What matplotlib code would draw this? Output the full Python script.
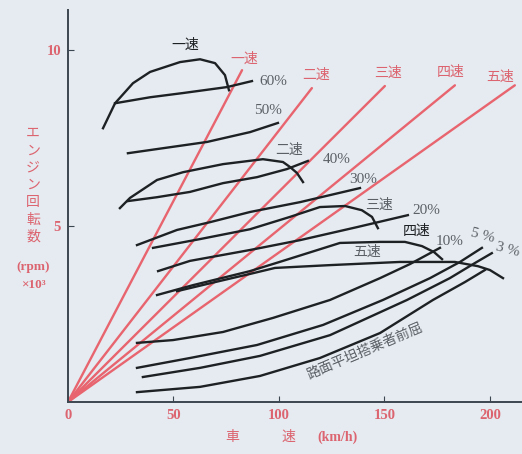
import matplotlib
matplotlib.use('Agg')
import matplotlib.pyplot as plt

plt.rcParams['font.family'] = ['Noto Sans CJK JP', 'DejaVu Sans']

# gear lines (red): top end of each line, speed km/h / rpm x1000
gear_names = ['一速', '二速', '三速', '四速', '五速']
gear_end_speed = [82.5, 115.6, 150.2, 183.4, 211.8]
gear_end_rpm = [9.43, 8.92, 8.98, 9.00, 9.00]

# full-throttle envelope per gear (black)
env1_speed = [16.6, 22.3, 30.8, 38.9, 53.1, 62.6, 69.7, 74.4, 76.3]
env1_rpm = [7.78, 8.49, 9.06, 9.38, 9.66, 9.74, 9.63, 9.29, 8.86]
env2_speed = [24.6, 29.4, 42.2, 54.5, 73.5, 92.4, 101.9, 105.2, 108.5, 111.4]
env2_rpm = [5.51, 5.80, 6.31, 6.53, 6.76, 6.90, 6.82, 6.68, 6.51, 6.25]
env3_speed = [40.3, 62.6, 86.3, 105.2, 119.4, 131.3, 139.3, 144.1, 146.9]
env3_rpm = [4.38, 4.63, 4.91, 5.26, 5.54, 5.57, 5.45, 5.26, 4.94]
env4_speed = [42.2, 59.2, 86.3, 101.9, 128.9, 147.9, 159.7, 167.8, 173.5, 177.3]
env4_rpm = [3.04, 3.32, 3.72, 4.01, 4.52, 4.55, 4.55, 4.43, 4.26, 4.06]
env5_speed = [51.7, 72.0, 86.3, 98.1, 124.2, 157.3, 183.4, 194.3, 200.0, 206.2]
env5_rpm = [3.15, 3.44, 3.64, 3.81, 3.89, 3.98, 3.98, 3.86, 3.75, 3.52]

# grade curves
g60_speed = [22.3, 38.9, 54.5, 75.4, 87.2]
g60_rpm = [8.49, 8.66, 8.78, 8.95, 9.12]
g50_speed = [28.4, 38.9, 65.9, 86.3, 99.5]
g50_rpm = [7.07, 7.16, 7.39, 7.67, 7.93]
g40_speed = [28.4, 42.2, 57.8, 73.5, 89.6, 103.8, 113.7]
g40_rpm = [5.71, 5.82, 5.97, 6.22, 6.39, 6.62, 6.85]
g30_speed = [32.7, 51.7, 67.3, 86.3, 110.0, 138.4]
g30_rpm = [4.46, 4.89, 5.11, 5.40, 5.68, 6.08]
g20_speed = [42.7, 57.8, 86.3, 110.0, 137.0, 161.1]
g20_rpm = [3.72, 4.01, 4.32, 4.60, 4.97, 5.31]
g10_speed = [32.7, 49.8, 73.5, 97.2, 124.2, 147.9, 162.1, 176.3]
g10_rpm = [1.68, 1.76, 1.99, 2.39, 2.90, 3.52, 3.92, 4.38]
g5_speed = [32.7, 57.8, 89.6, 120.9, 149.3, 171.6, 185.8, 196.2]
g5_rpm = [0.97, 1.25, 1.62, 2.19, 2.90, 3.52, 3.98, 4.38]
g3_speed = [35.5, 62.6, 91.0, 124.2, 160.7, 181.0, 192.9, 200.9]
g3_rpm = [0.71, 0.97, 1.31, 1.90, 2.90, 3.52, 3.95, 4.23]
flat_speed = [32.7, 62.6, 91.0, 119.4, 147.9, 173.0, 188.2, 197.6]
flat_rpm = [0.28, 0.43, 0.74, 1.25, 1.96, 2.90, 3.41, 3.75]

x_ticks = [0, 50, 100, 150, 200]
y_ticks = [5, 10]

BG = '#e5ebf0'
RED_LINE = '#e8646e'
RED_TEXT = '#dc6470'
INK = '#1e2124'
GRAY = '#5a6066'

W, H = 522, 454
fig = plt.figure(figsize=(W / 100, H / 100), dpi=100, facecolor=BG)
ax = fig.add_axes([68 / W, (H - 402) / H, (W - 68) / W, (402 - 10) / H])
ax.set_facecolor(BG)
ax.set_xlim(0, 215.2)
ax.set_ylim(0, 11.14)

for s in ['top', 'right']:
    ax.spines[s].set_visible(False)
for s in ['left', 'bottom']:
    ax.spines[s].set_color('#3c4650')
    ax.spines[s].set_linewidth(1.4)

ax.set_xticks(x_ticks)
ax.set_xticklabels([str(v) for v in x_ticks])
ax.set_yticks(y_ticks)
ax.set_yticklabels([str(v) for v in y_ticks])
ax.tick_params(direction='in', length=4, color='#3c4650', labelcolor=RED_TEXT,
               labelsize=10.5, pad=5)
for lab in ax.get_xticklabels() + ax.get_yticklabels():
    lab.set_family('Liberation Serif')
    lab.set_fontweight('bold')

# red gear lines from origin
for sp, rp in zip(gear_end_speed, gear_end_rpm):
    ax.plot([0, sp], [0, rp], color=RED_LINE, lw=1.7, solid_capstyle='round', zorder=2)

curves = [
    (env1_speed, env1_rpm), (env2_speed, env2_rpm), (env3_speed, env3_rpm),
    (env4_speed, env4_rpm), (env5_speed, env5_rpm),
    (g60_speed, g60_rpm), (g50_speed, g50_rpm), (g40_speed, g40_rpm),
    (g30_speed, g30_rpm), (g20_speed, g20_rpm), (g10_speed, g10_rpm),
    (g5_speed, g5_rpm), (g3_speed, g3_rpm), (flat_speed, flat_rpm),
]
for xs, ys in curves:
    ax.plot(xs, ys, color=INK, lw=1.7, solid_joinstyle='round', zorder=3)

# red gear labels at the top of each line
red_label_pos = [(83.4, 9.74), (117.5, 9.29), (151.7, 9.35), (181.5, 9.38), (204.7, 9.23)]
for name, (lx, ly) in zip(gear_names, red_label_pos):
    ax.text(lx, ly, name, color=RED_TEXT, fontsize=10, ha='center', va='center', zorder=4)

# black labels
black_labels = [
    ('一速', 55.5, 10.14, INK), ('60%', 97.2, 9.12, GRAY), ('50%', 94.8, 8.27, GRAY),
    ('二速', 104.7, 7.16, GRAY), ('40%', 127.5, 6.88, GRAY), ('30%', 139.8, 6.31, GRAY),
    ('三速', 147.4, 5.60, GRAY), ('20%', 169.7, 5.43, GRAY), ('四速', 165.4, 4.86, INK),
    ('10%', 181.0, 4.57, GRAY), ('五速', 141.7, 4.26, GRAY),
]
for txt, lx, ly, c in black_labels:
    ax.text(lx, ly, txt, color=c, fontsize=11 if '%' in txt else 10, ha='center',
            va='center', zorder=4,
            family=['Liberation Serif', 'Noto Sans CJK JP'] if '%' in txt else None)
ax.text(196.7, 4.72, '5 %', color=GRAY, fontsize=11, ha='center', va='center',
        rotation=-15, family='Liberation Serif', zorder=4)
ax.text(208.5, 4.32, '3 %', color=GRAY, fontsize=11, ha='center', va='center',
        rotation=-15, family='Liberation Serif', zorder=4)
ax.text(141.0, 1.45, '路面平坦搭乗者前屈', color=GRAY, fontsize=10, ha='center',
        va='center', rotation=23, zorder=4)

# y axis title, written vertically
for i, ch in enumerate('エンジン回転数'):
    fig.text(33 / W, 1 - (133 + i * 17.3) / H, ch, color=RED_TEXT, fontsize=10,
             ha='center', va='center')
fig.text(33 / W, 1 - 267 / H, '(rpm)', color=RED_TEXT, fontsize=9.5, ha='center',
         va='center', family='Liberation Serif', fontweight='bold')
fig.text(33 / W, 1 - 285 / H, '×10³', color=RED_TEXT, fontsize=9.5, ha='center',
         va='center', family='Liberation Serif', fontweight='bold')

# x axis title
fig.text(232 / W, 1 - 437 / H, '車', color=RED_TEXT, fontsize=10, ha='center', va='center')
fig.text(288 / W, 1 - 437 / H, '速', color=RED_TEXT, fontsize=10, ha='center', va='center')
fig.text(337 / W, 1 - 437 / H, '(km/h)', color=RED_TEXT, fontsize=10, ha='center',
         va='center', family='Liberation Serif', fontweight='bold')

fig.savefig('out.png', dpi=100, facecolor=BG)
